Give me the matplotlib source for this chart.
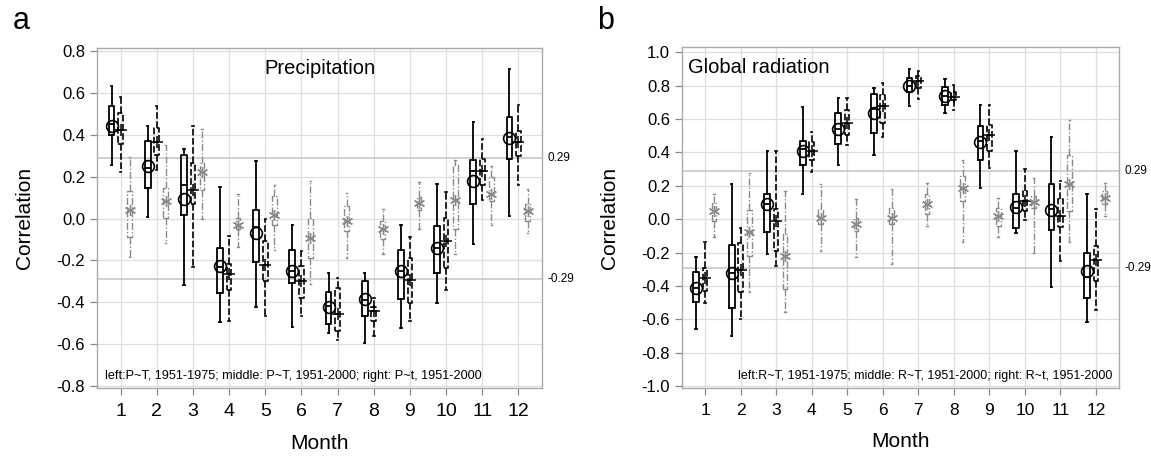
import numpy as np
import matplotlib
matplotlib.use("Agg")
import matplotlib.pyplot as plt

plt.rcParams['font.family'] = ['Liberation Sans', 'DejaVu Sans']
plt.rcParams['axes.unicode_minus'] = False

months = [1, 2, 3, 4, 5, 6, 7, 8, 9, 10, 11, 12]
month_labels = ['1', '2', '3', '4', '5', '6', '7', '8', '9', '10', '11', '12']
a_yticks = [-0.8, -0.6, -0.4, -0.2, 0.0, 0.2, 0.4, 0.6, 0.8]
b_yticks = [-1.0, -0.8, -0.6, -0.4, -0.2, 0.0, 0.2, 0.4, 0.6, 0.8, 1.0]

# ---------------- Panel a: Precipitation ----------------
# left: P~T, 1951-1975
a_l_whishi = [0.635, 0.443, 0.332, 0.149, 0.273, -0.029, -0.259, -0.259, -0.029, 0.165, 0.463, 0.713]
a_l_q3 = [0.54, 0.371, 0.305, -0.143, 0.043, -0.151, -0.349, -0.298, -0.152, -0.037, 0.278, 0.487]
a_l_med = [0.45, 0.24, 0.159, -0.23, -0.04, -0.25, -0.42, -0.39, -0.25, -0.14, 0.225, 0.39]
a_l_mean = [0.444, 0.249, 0.094, -0.227, -0.071, -0.252, -0.425, -0.386, -0.251, -0.143, 0.181, 0.387]
a_l_q1 = [0.397, 0.146, 0.019, -0.354, -0.206, -0.306, -0.502, -0.465, -0.386, -0.259, 0.067, 0.286]
a_l_whislo = [0.257, 0.006, -0.318, -0.494, -0.421, -0.517, -0.549, -0.595, -0.524, -0.405, -0.124, 0.011]
# middle: P~T, 1951-2000
a_m_whishi = [0.58, 0.538, 0.44, -0.084, 0.0, -0.156, -0.283, -0.381, -0.089, 0.127, 0.379, 0.543]
a_m_q3 = [0.506, 0.432, 0.265, -0.219, -0.108, -0.229, -0.333, -0.425, -0.187, 0.003, 0.283, 0.416]
a_m_med = [0.424, 0.368, 0.138, -0.267, -0.222, -0.298, -0.454, -0.441, -0.295, -0.108, 0.225, 0.365]
a_m_mean = [0.424, 0.368, 0.138, -0.267, -0.222, -0.298, -0.454, -0.441, -0.295, -0.108, 0.225, 0.365]
a_m_q1 = [0.357, 0.305, 0.067, -0.343, -0.3, -0.378, -0.537, -0.489, -0.402, -0.235, 0.162, 0.3]
a_m_whislo = [0.222, 0.233, -0.232, -0.489, -0.465, -0.465, -0.581, -0.56, -0.492, -0.343, 0.087, 0.162]
# right: P~t, 1951-2000
a_r_whishi = [0.292, 0.352, 0.429, 0.117, 0.159, 0.181, 0.122, 0.046, 0.175, 0.281, 0.249, 0.141]
a_r_q3 = [0.13, 0.146, 0.265, 0.003, 0.106, 0.003, 0.059, -0.013, 0.102, 0.257, 0.2, 0.067]
a_r_med = [0.043, 0.082, 0.222, -0.029, 0.019, -0.092, -0.013, -0.052, 0.075, 0.087, 0.119, 0.035]
a_r_mean = [0.043, 0.082, 0.222, -0.029, 0.019, -0.092, -0.013, -0.052, 0.075, 0.087, 0.119, 0.035]
a_r_q1 = [-0.089, 0.003, 0.135, -0.052, -0.029, -0.187, -0.06, -0.1, 0.043, -0.052, 0.084, -0.013]
a_r_whislo = [-0.184, -0.116, -0.002, -0.135, -0.152, -0.314, -0.187, -0.171, -0.048, -0.168, -0.029, -0.068]

# ---------------- Panel b: Global radiation ----------------
b_l_whishi = [-0.224, 0.208, 0.407, 0.671, 0.724, 0.788, 0.899, 0.839, 0.681, 0.411, 0.49, 0.149]
b_l_q3 = [-0.317, -0.153, 0.149, 0.466, 0.635, 0.748, 0.843, 0.79, 0.556, 0.149, 0.208, -0.204]
b_l_med = [-0.41, -0.32, 0.09, 0.42, 0.54, 0.66, 0.8, 0.74, 0.47, 0.07, 0.06, -0.347]
b_l_mean = [-0.411, -0.321, 0.089, 0.411, 0.54, 0.635, 0.8, 0.74, 0.462, 0.073, 0.056, -0.308]
b_l_q1 = [-0.496, -0.53, -0.079, 0.323, 0.45, 0.516, 0.764, 0.685, 0.357, -0.05, -0.063, -0.472]
b_l_whislo = [-0.659, -0.698, -0.208, 0.153, 0.323, 0.387, 0.679, 0.635, 0.189, -0.083, -0.407, -0.615]

b_m_whishi = [-0.139, -0.05, 0.407, 0.522, 0.724, 0.817, 0.889, 0.804, 0.685, 0.302, 0.228, 0.064]
b_m_q3 = [-0.292, -0.143, 0.064, 0.46, 0.655, 0.744, 0.855, 0.764, 0.566, 0.169, 0.119, -0.163]
b_m_med = [-0.353, -0.304, -0.01, 0.411, 0.575, 0.675, 0.825, 0.734, 0.506, 0.109, 0.02, -0.244]
b_m_mean = [-0.353, -0.304, -0.01, 0.411, 0.575, 0.675, 0.825, 0.734, 0.506, 0.109, 0.02, -0.244]
b_m_q1 = [-0.43, -0.437, -0.188, 0.357, 0.506, 0.575, 0.786, 0.714, 0.407, 0.05, -0.046, -0.367]
b_m_whislo = [-0.502, -0.595, -0.278, 0.284, 0.446, 0.49, 0.718, 0.655, 0.304, -0.006, -0.248, -0.546]

b_r_whishi = [0.153, 0.278, 0.169, 0.208, 0.123, 0.179, 0.218, 0.357, 0.125, 0.248, 0.595, 0.218]
b_r_q3 = [0.099, 0.054, -0.089, 0.06, 0.01, 0.07, 0.149, 0.258, 0.07, 0.139, 0.387, 0.169]
b_r_med = [0.05, -0.075, -0.218, 0.01, -0.03, 0.006, 0.089, 0.189, 0.018, 0.105, 0.208, 0.129]
b_r_mean = [0.05, -0.075, -0.218, 0.01, -0.03, 0.006, 0.089, 0.189, 0.018, 0.105, 0.208, 0.129]
b_r_q1 = [-0.01, -0.218, -0.417, -0.03, -0.07, -0.03, 0.03, 0.109, -0.04, 0.07, 0.05, 0.089]
b_r_whislo = [-0.105, -0.437, -0.556, -0.192, -0.228, -0.268, -0.04, -0.139, -0.109, -0.204, -0.139, 0.02]

crit = 0.29


def make_stats(whislo, q1, med, q3, whishi, mean):
    return [dict(whislo=whislo[i], q1=q1[i], med=med[i], q3=q3[i],
                 whishi=whishi[i], mean=mean[i], fliers=[])
            for i in range(len(med))]


GRAY = '#8a8a8a'
styles = {
    'left': dict(offset=-0.25, width=0.16, color='black', ls='-', lw=1.3,
                 meanprops=dict(marker='o', markerfacecolor='none', markeredgecolor='black',
                                markersize=8.5, markeredgewidth=1.2)),
    'middle': dict(offset=0.0, width=0.13, color='black', ls=(0, (4, 1.5)), lw=1.2,
                   meanprops=dict(marker='+', markeredgecolor='black', markersize=8,
                                  markeredgewidth=1.1)),
    'right': dict(offset=0.25, width=0.13, color=GRAY, ls=(0, (5, 1.5, 1, 1.5)), lw=1.0,
                  meanprops=dict(marker=(6, 2, 0), markeredgecolor=GRAY, markersize=8,
                                 markeredgewidth=1.0)),
}


def draw_group(ax, stats, key):
    s = styles[key]
    pos = np.array(months, dtype=float) + s['offset']
    lp = dict(color=s['color'], linestyle=s['ls'], linewidth=s['lw'])
    cp = dict(color=s['color'], linestyle='-', linewidth=s['lw'])
    ax.bxp(stats, positions=pos, widths=s['width'], showmeans=True, showfliers=False,
           boxprops=lp, whiskerprops=lp, capprops=cp,
           medianprops=dict(color=s['color'], linewidth=s['lw']),
           meanprops=s['meanprops'], capwidths=0.04, manage_ticks=False,
           zorder=3)


def style_axes(ax, ylim, yticks, xfs, yfs):
    ax.set_xlim(0.35, 12.65)
    ax.set_ylim(*ylim)
    ax.set_xticks(months)
    ax.set_xticklabels(month_labels, fontsize=xfs)
    ax.set_yticks(yticks)
    ax.set_yticklabels(['%.1f' % v for v in yticks], fontsize=yfs)
    ax.grid(True, color='#dedede', linewidth=0.9, zorder=0)
    ax.set_axisbelow(True)
    for sp in ax.spines.values():
        sp.set_color('#aaaaaa')
        sp.set_linewidth(1.0)
    ax.tick_params(axis='both', direction='out', length=5, color='#888888', width=0.9)
    ax.tick_params(axis='x', pad=6)
    ax.axhline(crit, color='#c4c4c4', linewidth=1.1, zorder=1)
    ax.axhline(-crit, color='#c4c4c4', linewidth=1.1, zorder=1)
    ax.text(1.012, crit, '%.2f' % crit, transform=ax.get_yaxis_transform(),
            ha='left', va='center', fontsize=8.5)
    ax.text(1.012, -crit, '%.2f' % -crit, transform=ax.get_yaxis_transform(),
            ha='left', va='center', fontsize=8.5)
    ax.set_xlabel('Month', fontsize=15, labelpad=10)
    ax.set_ylabel('Correlation', fontsize=15, labelpad=16)


fig = plt.figure(figsize=(11.51, 4.57), dpi=100)
axa = fig.add_axes([0.0843, 0.151, 0.3866, 0.744])
axb = fig.add_axes([0.5925, 0.151, 0.3797, 0.746])

# Panel a
draw_group(axa, make_stats(a_l_whislo, a_l_q1, a_l_med, a_l_q3, a_l_whishi, a_l_mean), 'left')
draw_group(axa, make_stats(a_m_whislo, a_m_q1, a_m_med, a_m_q3, a_m_whishi, a_m_mean), 'middle')
draw_group(axa, make_stats(a_r_whislo, a_r_q1, a_r_med, a_r_q3, a_r_whishi, a_r_mean), 'right')
style_axes(axa, (-0.81, 0.815), a_yticks, 14, 12)
axa.text(0.5, 0.94, 'Precipitation', transform=axa.transAxes, ha='center', va='center', fontsize=14.5)
axa.text(0.018, 0.035, 'left:P~T, 1951-1975; middle: P~T, 1951-2000; right: P~t, 1951-2000',
         transform=axa.transAxes, ha='left', va='center', fontsize=9.1)

# Panel b
draw_group(axb, make_stats(b_l_whislo, b_l_q1, b_l_med, b_l_q3, b_l_whishi, b_l_mean), 'left')
draw_group(axb, make_stats(b_m_whislo, b_m_q1, b_m_med, b_m_q3, b_m_whishi, b_m_mean), 'middle')
draw_group(axb, make_stats(b_r_whislo, b_r_q1, b_r_med, b_r_q3, b_r_whishi, b_r_mean), 'right')
style_axes(axb, (-1.01, 1.03), b_yticks, 12.5, 12)
axb.text(0.014, 0.94, 'Global radiation', transform=axb.transAxes, ha='left', va='center', fontsize=14.5)
axb.text(0.984, 0.035, 'left:R~T, 1951-1975; middle: R~T, 1951-2000; right: R~t, 1951-2000',
         transform=axb.transAxes, ha='right', va='center', fontsize=9.0)

fig.text(0.011, 0.955, 'a', fontsize=22, ha='left', va='center')
fig.text(0.519, 0.955, 'b', fontsize=22, ha='left', va='center')

fig.savefig('out.png', dpi=100)
